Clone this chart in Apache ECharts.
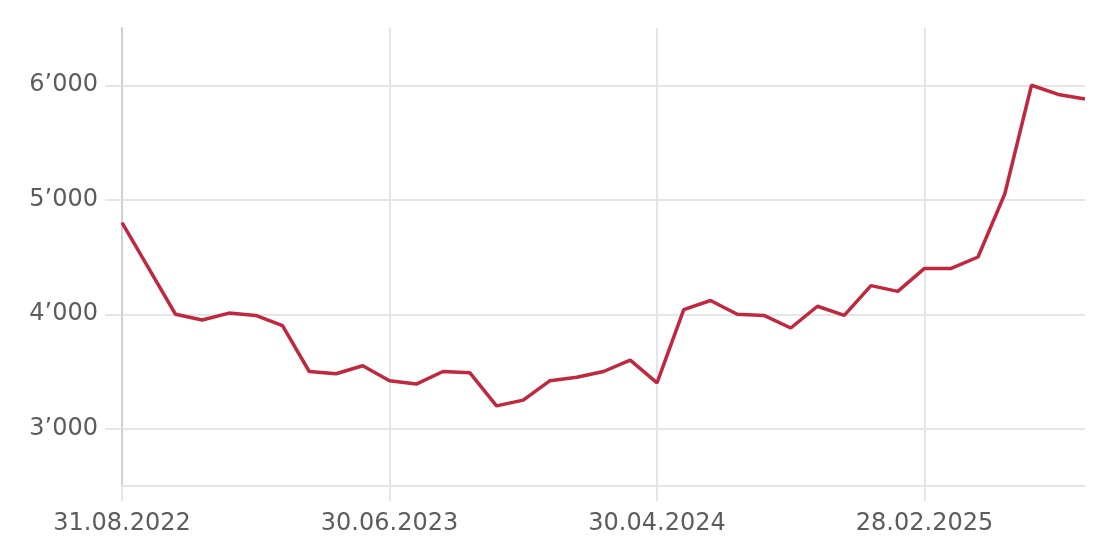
<!DOCTYPE html>
<html>
<head>
<meta charset="utf-8">
<script src="https://cdn.jsdelivr.net/npm/echarts@6/dist/echarts.min.js"></script>
<style>
  html, body { margin: 0; padding: 0; background: #fff; }
  #container { width: 1096px; height: 552px; }
</style>
</head>
<body>
<div id="container"></div>
<script>
const dates = [
  '31.08.2022', '30.09.2022', '31.10.2022', '30.11.2022', '31.12.2022',
  '31.01.2023', '28.02.2023', '31.03.2023', '30.04.2023', '31.05.2023', '30.06.2023',
  '31.07.2023', '31.08.2023', '30.09.2023', '31.10.2023', '30.11.2023', '31.12.2023',
  '31.01.2024', '29.02.2024', '31.03.2024', '30.04.2024', '31.05.2024', '30.06.2024',
  '31.07.2024', '31.08.2024', '30.09.2024', '31.10.2024', '30.11.2024', '31.12.2024',
  '31.01.2025', '28.02.2025', '31.03.2025', '30.04.2025', '31.05.2025', '30.06.2025',
  '31.07.2025', '31.08.2025'
]
const values = [
  4800, 4400, 4000, 3950, 4010, 3990, 3900, 3500, 3480, 3550,
  3420, 3390, 3500, 3490, 3200, 3250, 3420, 3450, 3500, 3600,
  3400, 4040, 4120, 4000, 3990, 3880, 4070, 3990, 4250, 4200,
  4400, 4400, 4500, 5050, 6000, 5920, 5880
]
const yTicks = [3000, 4000, 5000, 6000]

const gridColor = '#e2e5e9'
const textColor = '#5c5c5c'
const font = 'DejaVu Sans'

let myChart = echarts.init(document.getElementById('container'), null, { renderer: 'canvas' })
let option = {
  animation: false,
  grid: {
    left: 122,
    right: 11,
    top: 28,
    bottom: 66,
    containLabel: false,
    outerBoundsMode: 'none'
  },
  xAxis: {
    type: 'category',
    data: dates,
    boundaryGap: false,
    axisLine: { show: true, lineStyle: { color: gridColor, width: 2 } },
    axisTick: { show: true, interval: 9, length: 15, lineStyle: { color: gridColor, width: 2 } },
    splitLine: { show: true, interval: 9, lineStyle: { color: gridColor, width: 2 } },
    axisLabel: {
      interval: 9,
      margin: 26,
      color: textColor,
      fontFamily: font,
      fontSize: 24
    }
  },
  yAxis: {
    type: 'value',
    min: 2500,
    max: 6500,
    axisLine: { show: true, lineStyle: { color: '#cdd1d6', width: 2 } },
    axisTick: { show: true, customValues: yTicks, length: 17, lineStyle: { color: gridColor, width: 2 } },
    splitLine: { show: true, lineStyle: { color: gridColor, width: 2 } },
    axisLabel: {
      customValues: yTicks,
      margin: 24,
      color: textColor,
      fontFamily: font,
      fontSize: 24,
      formatter: v => String(v / 1000) + '’000'
    }
  },
  series: [
    {
      type: 'line',
      data: values,
      showSymbol: false,
      symbol: 'none',
      lineStyle: { color: '#c0283f', width: 3.5 },
      itemStyle: { color: '#c0283f' }
    }
  ]
}
myChart.setOption(option)
</script>
</body>
</html>
